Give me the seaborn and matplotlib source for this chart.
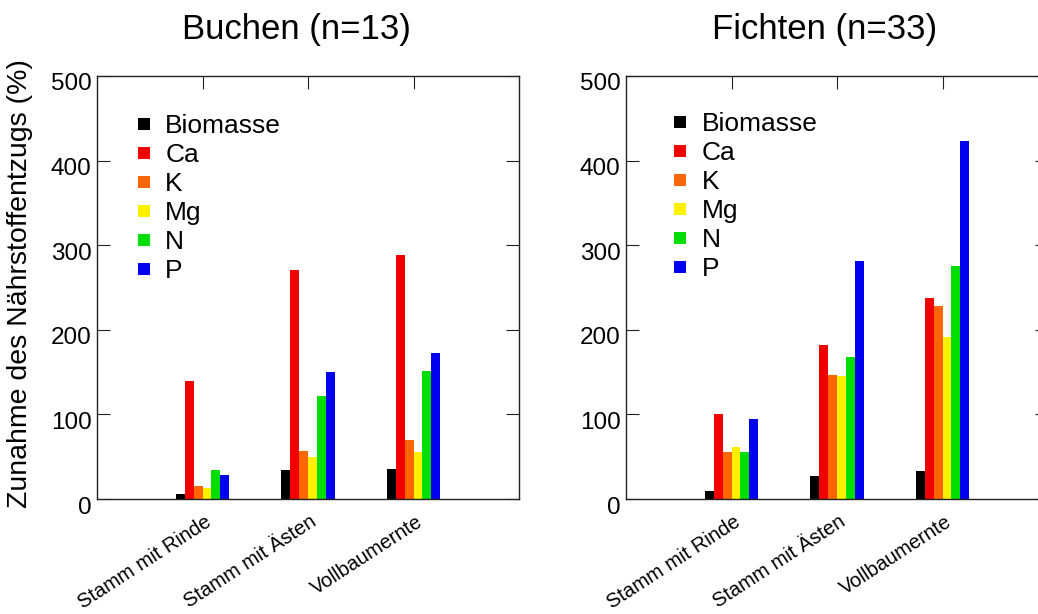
import matplotlib
matplotlib.use("Agg")
import matplotlib.pyplot as plt
import matplotlib.transforms as mtransforms
from matplotlib.lines import Line2D
import numpy as np
import pandas as pd
import seaborn as sns

# --- data -----------------------------------------------------------------
categories = ["Stamm mit Rinde", "Stamm mit Ästen", "Vollbaumernte"]
elements = ["Biomasse", "Ca", "K", "Mg", "N", "P"]
element_colors = ["#000000", "#f00000", "#ff6600", "#fff000", "#00dd00", "#0000ee"]

titles = ["Buchen (n=13)", "Fichten (n=33)"]
ylabel = "Zunahme des Nährstoffentzugs (%)"
yticks = [0, 100, 200, 300, 400, 500]

buchen_biomasse = [6, 34, 36]
buchen_ca = [140, 271, 288]
buchen_k = [15, 57, 70]
buchen_mg = [13, 50, 56]
buchen_n = [34, 122, 151]
buchen_p = [28, 150, 173]

fichten_biomasse = [9, 27, 33]
fichten_ca = [101, 182, 237]
fichten_k = [55, 147, 228]
fichten_mg = [62, 145, 191]
fichten_n = [56, 168, 275]
fichten_p = [95, 281, 423]


def long_table(series):
    rows = []
    for element, values in zip(elements, series):
        for cat, v in zip(categories, values):
            rows.append({"Variante": cat, "Element": element, "Wert": v})
    return pd.DataFrame(rows)


buchen = long_table([buchen_biomasse, buchen_ca, buchen_k, buchen_mg, buchen_n, buchen_p])
fichten = long_table([fichten_biomasse, fichten_ca, fichten_k, fichten_mg, fichten_n, fichten_p])

# --- style ----------------------------------------------------------------
sns.set_theme(style="white")
plt.rcParams["font.family"] = ["Liberation Sans", "DejaVu Sans"]
plt.rcParams.update({
    "text.color": "black",
    "axes.labelcolor": "black",
    "xtick.color": "black",
    "ytick.color": "black",
})

W, H, DPI = 1038, 614, 100
fig = plt.figure(figsize=(W / DPI, H / DPI), dpi=DPI)
fig.patch.set_facecolor("white")

ax_w, ax_h = 422 / W, 423 / H
ax_bottom = (H - 499) / H
axes = [
    fig.add_axes([97 / W, ax_bottom, ax_w, ax_h]),
    fig.add_axes([626 / W, ax_bottom, ax_w, ax_h]),
]

legend_anchor = [(0.090, 0.910), (0.107, 0.915)]

for ax, df, title, anchor in zip(axes, [buchen, fichten], titles, legend_anchor):
    sns.barplot(
        data=df, x="Variante", y="Wert", hue="Element",
        order=categories, hue_order=elements, palette=element_colors,
        width=0.51, dodge=True, gap=0, saturation=1, errorbar=None,
        edgecolor="none", linewidth=0, legend=False, ax=ax,
    )
    ax.set_xlim(-1, 3)
    ax.set_ylim(0, 500)
    ax.set_yticks(yticks)
    ax.set_xticks(range(len(categories)))
    ax.set_xlabel("")
    ax.set_ylabel("")
    ax.set_facecolor("white")

    for sp in ax.spines.values():
        sp.set_visible(True)
        sp.set_color("#222222")
        sp.set_linewidth(1.0)

    ax.tick_params(axis="both", which="major", direction="in", length=9.4,
                   width=0.8, color="#222222")
    ax.tick_params(axis="y", left=True, right=True, labelsize=17.5, pad=4)
    ax.tick_params(axis="x", top=True, bottom=True, labeltop=False, pad=18.5)
    for t in ax.xaxis.get_major_ticks():
        t.tick1line.set_visible(False)

    ax.set_xticklabels(categories, rotation=33, ha="right", va="baseline",
                       rotation_mode="anchor", fontsize=14.5)
    xoff = mtransforms.ScaledTranslation(10 / DPI, 0, fig.dpi_scale_trans)
    for lab in ax.get_xticklabels():
        lab.set_transform(lab.get_transform() + xoff)
    yoff = mtransforms.ScaledTranslation(0, -6 / DPI, fig.dpi_scale_trans)
    for lab in ax.get_yticklabels():
        lab.set_transform(lab.get_transform() + yoff)

    ax.set_title(title, fontsize=25, x=0.4716, pad=27)

    handles = [Line2D([], [], linestyle="none", marker="s", markersize=8.6,
                      markerfacecolor=c, markeredgewidth=0) for c in element_colors]
    ax.legend(handles, elements, loc="upper left", bbox_to_anchor=anchor,
              frameon=False, fontsize=19, borderpad=0, borderaxespad=0,
              handlelength=0.7, handletextpad=0.45, labelspacing=0.19)

axes[0].set_ylabel(ylabel, fontsize=20.5)
axes[0].yaxis.set_label_coords(-0.152, 0.51)

fig.savefig("out.png", dpi=DPI, facecolor="white")
